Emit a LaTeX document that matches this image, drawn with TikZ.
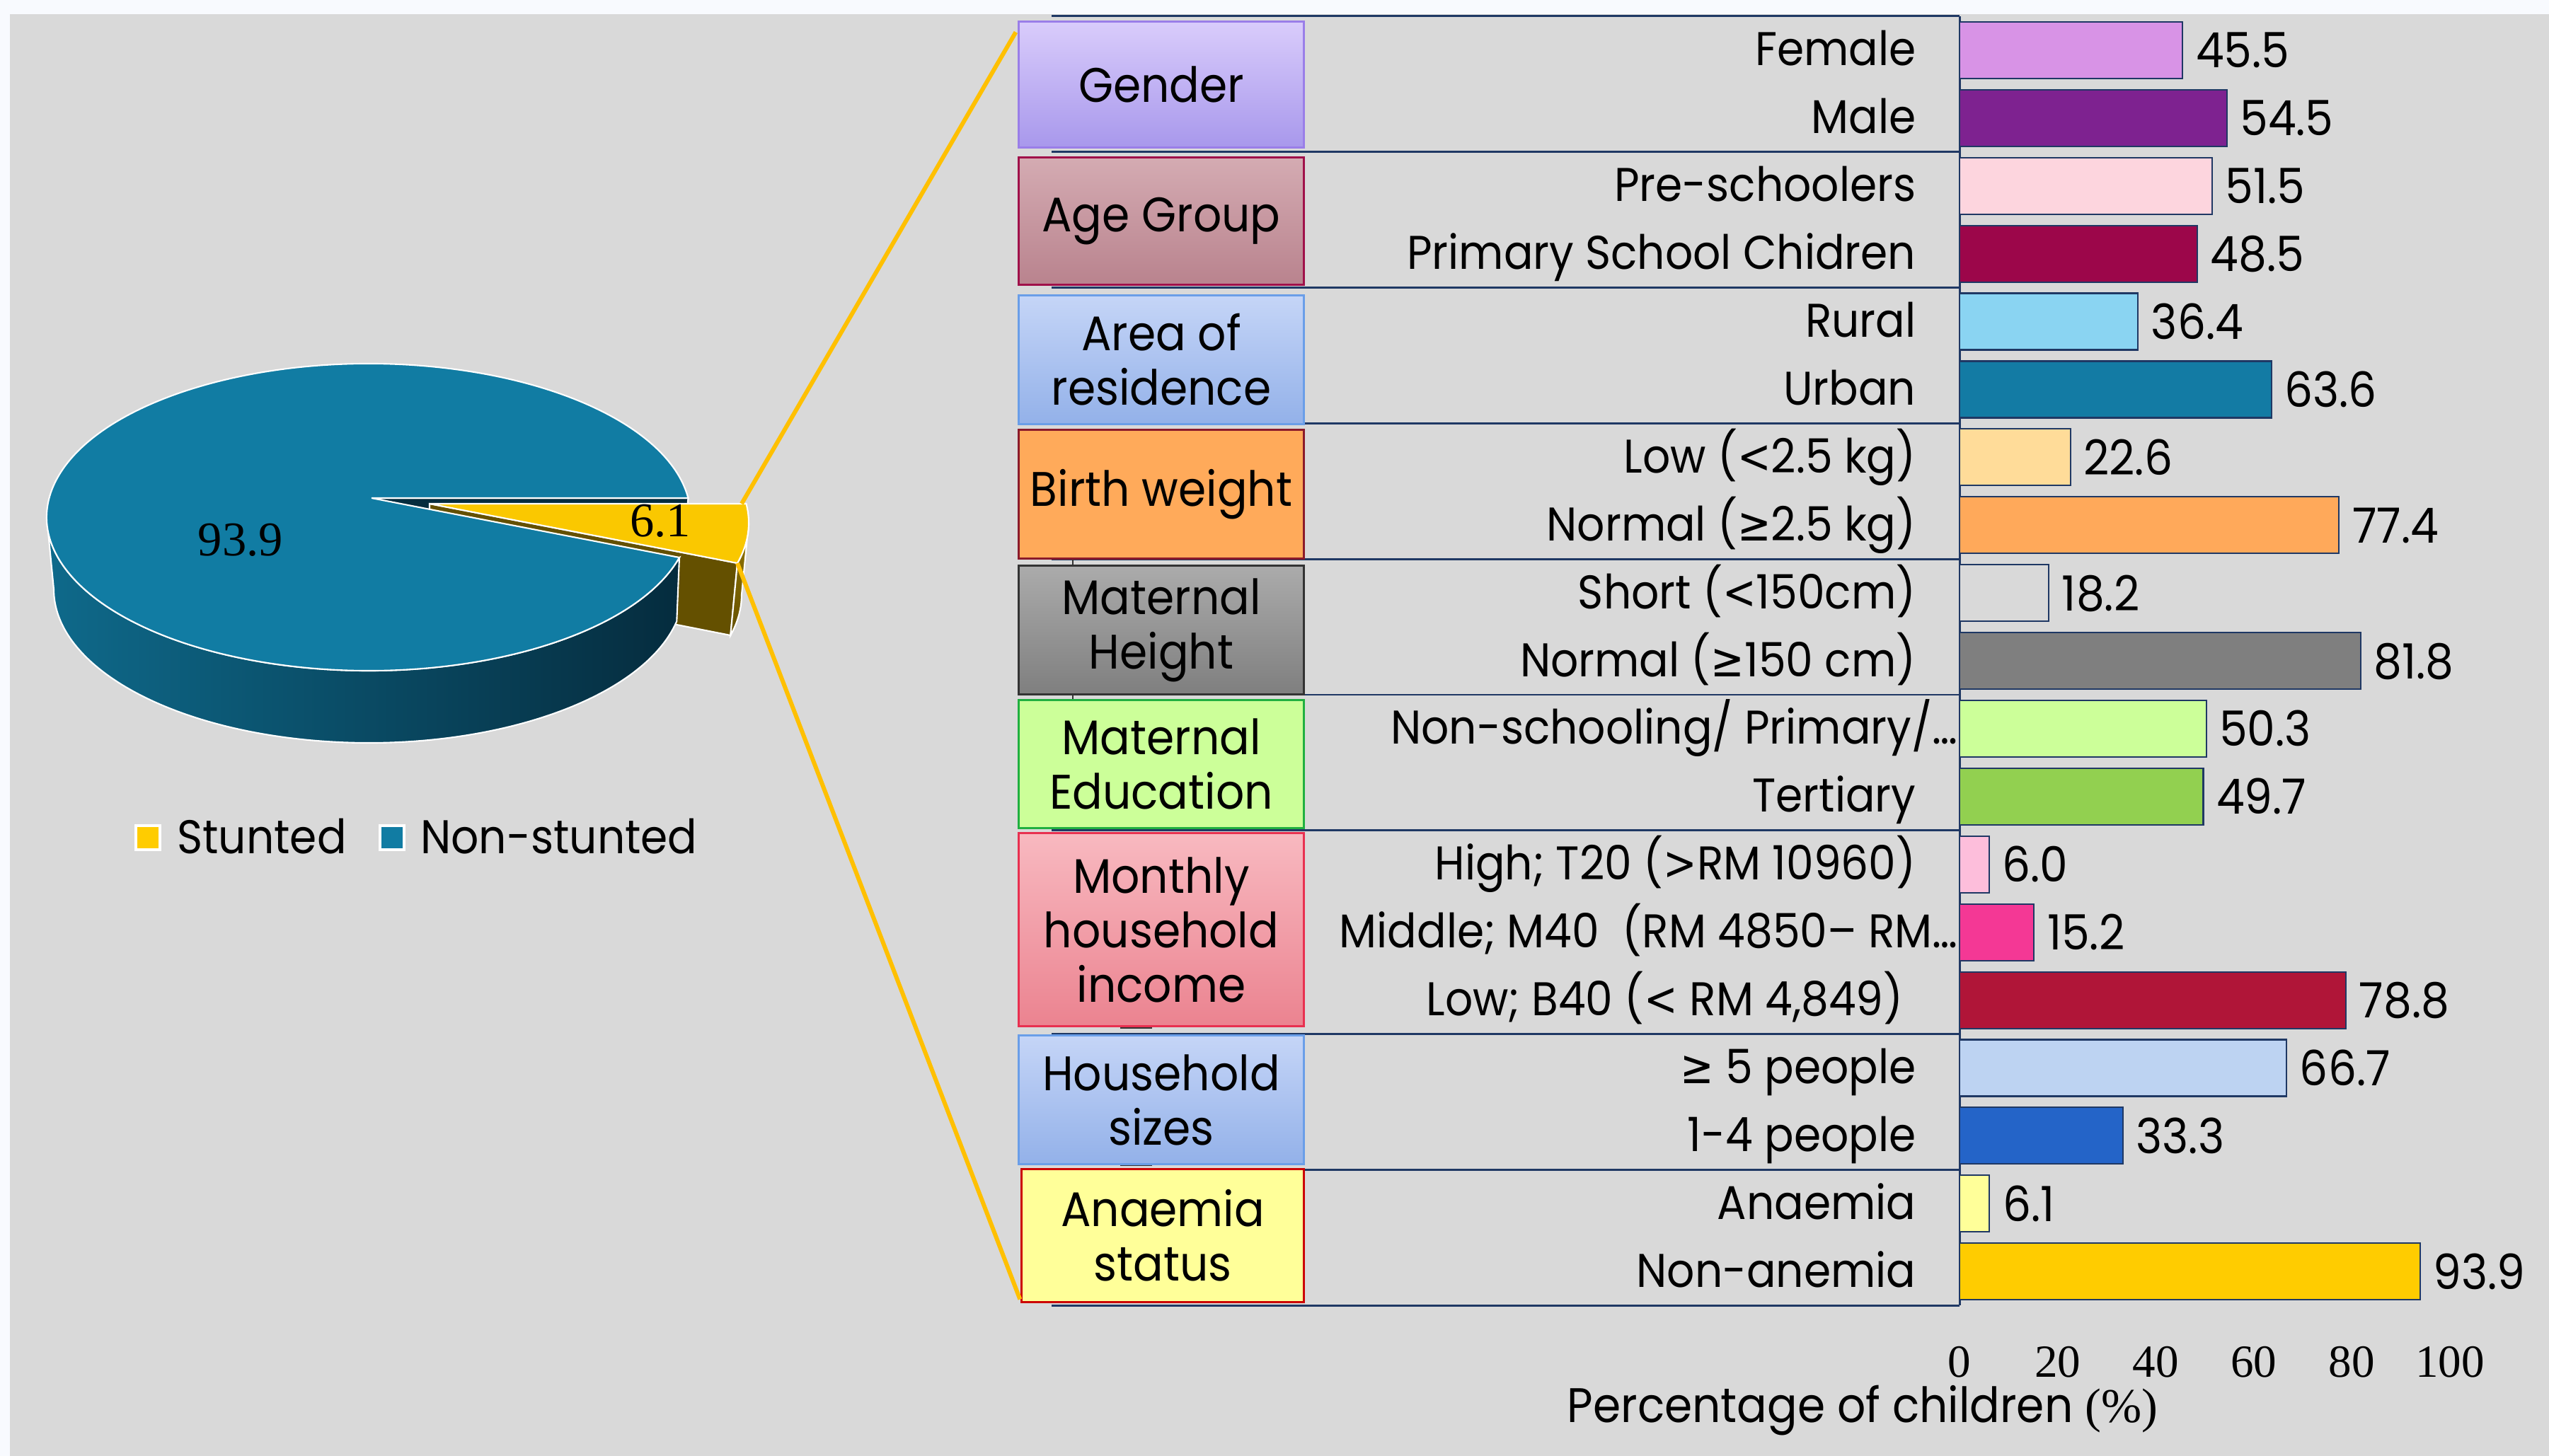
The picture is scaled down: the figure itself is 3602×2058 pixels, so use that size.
\documentclass[tikz,border=0pt]{standalone}
\usepackage{fontspec}
\setmainfont{Poppins}[FakeStretch=0.92]
\newfontfamily\numfont{Liberation Serif}
\newfontfamily\symfont{DejaVu Sans}[FakeStretch=0.85]
\newcommand{\lt}{{\symfont<}}
\newcommand{\gt}{{\symfont>}}
\newcommand{\gq}{{\symfont≥}}
\usetikzlibrary{calc}

\definecolor{bg}{HTML}{D9D9D9}
\definecolor{paper}{HTML}{F8FAFE}
\definecolor{navy}{HTML}{1F3864}
\definecolor{leadc}{HTML}{FFC000}
% bar colours
\definecolor{femc}{HTML}{D893E6}
\definecolor{malec}{HTML}{7E2290}
\definecolor{prec}{HTML}{FDD5DE}
\definecolor{primc}{HTML}{9C064A}
\definecolor{rurc}{HTML}{8AD4F2}
\definecolor{urbc}{HTML}{137BA4}
\definecolor{lbwc}{HTML}{FFDC99}
\definecolor{nbwc}{HTML}{FFA95A}
\definecolor{shortc}{HTML}{D9D9D9}
\definecolor{nhtc}{HTML}{7F7F7F}
\definecolor{nonsc}{HTML}{CCFF99}
\definecolor{terc}{HTML}{92D050}
\definecolor{highc}{HTML}{FDBEDB}
\definecolor{midc}{HTML}{F43895}
\definecolor{lowc}{HTML}{B01538}
\definecolor{bigc}{HTML}{BDD3F2}
\definecolor{smallc}{HTML}{2464C8}
\definecolor{anac}{HTML}{FFFF99}
\definecolor{nanac}{HTML}{FFCC00}
% box colours
\definecolor{gentop}{HTML}{D9CCFB}
\definecolor{genbot}{HTML}{A898EC}
\definecolor{genline}{HTML}{9A7EE8}
\definecolor{agetop}{HTML}{D4ABB2}
\definecolor{agebot}{HTML}{B9838E}
\definecolor{ageline}{HTML}{A0104A}
\definecolor{bluetop}{HTML}{C5D5F7}
\definecolor{bluebot}{HTML}{93B1E9}
\definecolor{blueline}{HTML}{6A9EE8}
\definecolor{birthfill}{HTML}{FFAA5A}
\definecolor{birthline}{HTML}{8B1A2A}
\definecolor{graytop}{HTML}{ABABAB}
\definecolor{graybot}{HTML}{7F7F7F}
\definecolor{grayline}{HTML}{333333}
\definecolor{eduline}{HTML}{20B040}
\definecolor{inctop}{HTML}{F8B9C0}
\definecolor{incbot}{HTML}{EB8390}
\definecolor{incline}{HTML}{E83050}
\definecolor{analine}{HTML}{CC0000}
% pie colours
\definecolor{pietop}{HTML}{117CA3}
\definecolor{pieside}{HTML}{052C3E}
\definecolor{slicetop}{HTML}{FAC800}
\definecolor{slicecut}{HTML}{645000}

\tikzset{
  catbox/.style={draw, line width=0.85pt, minimum width=4.02cm, inner sep=0pt,
    align=center, font=\fontsize{19.5}{21.9}\selectfont},
  rowlab/.style={anchor=base east, inner sep=0pt, font=\fontsize{19}{22}\selectfont},
  vallab/.style={anchor=base west, inner sep=0pt, font=\fontsize{19.5}{22}\selectfont},
  bar/.style={draw=navy, line width=0.6pt},
  pienum/.style={inner sep=0pt, font=\numfont\fontsize{19.5}{22}\selectfont},
  leader/.style={draw=leadc, line width=1.7pt},
  facet/.style={draw=white, line width=0.6pt}
}

\begin{document}
\begin{tikzpicture}[x=0.01cm, y=-0.01cm]
\useasboundingbox (0,0) rectangle (3602,2058);
\fill[paper] (0,0) rectangle (3602,2058);
\fill[bg] (14,20) rectangle (3602,2058);

% ---- exploded 3d pie ----
\coordinate (A) at (525,704);
\coordinate (P1) at (972.5,704);
\coordinate (P2) at (960,788);
\coordinate (Y0) at (607,712);
\coordinate (Y1) at (1054.5,712);
\coordinate (Y2) at (1042,796);
% cut face of the large slice
\fill[pieside, facet] (A) -- (P1) -- (962.5,806) -- (525,806) -- cycle;
% small slice: cut face, rim, top
\fill[slicecut, facet] (Y0) -- (Y2) -- (1032.3,898) -- (607,814) -- cycle;
\shade[top color=slicetop!60!black, bottom color=slicecut, facet]
  (1058,739) arc[start angle=0, end angle=15.23, x radius=455, y radius=217]
  -- (1032.3,898) arc[start angle=15.23, end angle=0, x radius=445, y radius=217] -- cycle;
\fill[slicetop, facet] (Y0) -- (Y1)
  arc[start angle=-7.15, end angle=15.23, x radius=455, y radius=217] -- cycle;
% large slice: side and top
\shade[left color=pietop!85!black, middle color=pietop!55!black, right color=pieside, facet]
  (P2) -- (956.3,878.1) arc[start angle=12, end angle=180, x radius=445, y radius=217]
  -- (66,731) arc[start angle=180, end angle=15.23, x radius=455, y radius=217] -- cycle;
\fill[pietop, facet] (A) -- (P2)
  arc[start angle=15.23, end angle=352.85, x radius=455, y radius=217] -- cycle;

\node[pienum] (nonstunted) at (340,763) {93.9};
\node[pienum] (stunted) at (933,736) {6.1};

% legend
\draw[white, line width=1.4pt, fill=nanac] (192,1167) rectangle (226,1201);
\node[anchor=base west, font=\fontsize{19}{22}\selectfont] (legs) at (238,1206) {Stunted};
\draw[white, line width=1.4pt, fill=pietop] (537,1167) rectangle (571,1201);
\node[anchor=base west, font=\fontsize{19}{22}\selectfont] (legn) at (582,1206) {Non-stunted};

% ---- table frame ----
\foreach \y in {23,214.8,406.6,598.4,790.2,982,1173.8,1461.5,1653.3,1845}
  \draw[navy, line width=0.85pt] (1486,\y) -- (2769,\y);
\draw[navy, line width=0.85pt] (2769,23) -- (2769,1845);

% small marks left behind the boxes
\draw[black!80, line width=0.9pt] (1583,1452) -- (1628,1452);
\draw[black!80, line width=0.9pt] (1583,1646) -- (1628,1646);
\draw[black!80, line width=0.6pt] (1516,790) -- (1516,800);
\draw[black!80, line width=0.6pt] (1516,982) -- (1516,990);

% ---- category boxes ----
\node[catbox, top color=gentop, bottom color=genbot, draw=genline,
  minimum height=1.77cm] (gender) at (1641,119.5) {Gender};
\node[catbox, top color=agetop, bottom color=agebot, draw=ageline,
  minimum height=1.79cm] (age) at (1641,312.5) {Age Group};
\node[catbox, top color=bluetop, bottom color=bluebot, draw=blueline,
  minimum height=1.81cm] (area) at (1641,508.5) {Area of\\residence};
\node[catbox, fill=birthfill, draw=birthline,
  minimum height=1.81cm] (birth) at (1641,698.5) {Birth weight};
\node[catbox, top color=graytop, bottom color=graybot, draw=grayline,
  minimum height=1.81cm] (height) at (1641,890.5) {Maternal\\Height};
\node[catbox, fill=nonsc, draw=eduline,
  minimum height=1.80cm] (edu) at (1641,1080) {Maternal\\Education};
\node[catbox, top color=inctop, bottom color=incbot, draw=incline,
  minimum height=2.72cm] (income) at (1641,1314) {Monthly\\household\\income};
\node[catbox, top color=bluetop, bottom color=bluebot, draw=blueline,
  minimum height=1.81cm] (house) at (1641,1554.5) {Household\\sizes};
\node[catbox, fill=anac, draw=analine, minimum width=3.98cm,
  minimum height=1.87cm] (anaemia) at (1643,1746.5) {Anaemia\\status};

% ---- row labels ----
\foreach \r/\t in {1/Female, 2/Male, 3/Pre-schoolers, 4/Primary School Chidren, 5/Rural, 6/Urban,
    7/Low (\lt2.5 kg), 8/Normal (\gq2.5 kg), 9/Short (\lt150cm), 10/Normal (\gq150 cm), 12/Tertiary,
    13/High; T20 (\gt RM 10960), 16/\gq\ 5 people, 17/1-4 people, 18/Anaemia, 19/Non-anemia}
  \node[rowlab] (lab\r) at (2708,{23+(\r-0.5)*95.9+22}) {\t};
\node[rowlab] (lab11) at (2767,{23+10.5*95.9+22}) {Non-schooling/ Primary/…};
\node[rowlab] (lab14) at (2767,{23+13.5*95.9+22}) {Middle; M40\ \ (RM 4850– RM…};
\node[rowlab] (lab15) at (2690,{23+14.5*95.9+22}) {Low; B40 (\lt\ RM 4,849)};

% ---- bars ----
\foreach \r/\v/\c in {1/45.5/femc, 2/54.5/malec, 3/51.5/prec, 4/48.5/primc, 5/36.4/rurc, 6/63.6/urbc,
    7/22.6/lbwc, 8/77.4/nbwc, 9/18.2/shortc, 10/81.8/nhtc, 11/50.3/nonsc, 12/49.7/terc,
    13/6.0/highc, 14/15.2/midc, 15/78.8/lowc, 16/66.7/bigc, 17/33.3/smallc, 18/6.1/anac, 19/93.9/nanac}{
  \pgfmathsetmacro{\yc}{23+(\r-0.5)*95.9}
  \draw[bar, fill=\c] (2769,\yc-40) rectangle (2769+6.93*\v,\yc+40);
  \node[vallab] (val\r) at (2769+6.93*\v+18,\yc+25) {\v};
}

% ---- axis ----
\foreach \t in {0,20,...,100}
  \node[pienum, font=\numfont\fontsize{18.5}{22}\selectfont] (tick\t) at (2769+6.93*\t,1925) {\t};
\node[anchor=base, font=\fontsize{19.5}{22}\selectfont] (xtitle) at (2632,2010)
  {Percentage of children {\numfont(\%)}};

% ---- leader lines ----
\draw[leader] (1048,712) -- ($(gender.north west)+(-3,16)$);
\draw[leader] (Y2) -- ($(anaemia.south west)+(-1,-5)$);
\end{tikzpicture}
\end{document}
